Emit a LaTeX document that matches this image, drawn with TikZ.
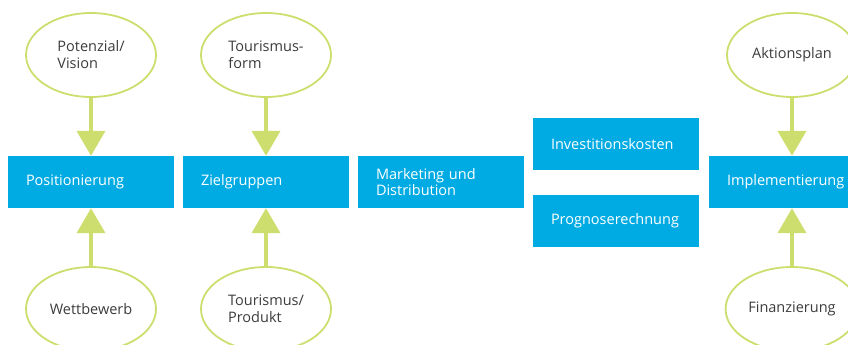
\documentclass[tikz,border=0pt]{standalone}
\usepackage{fontspec}
\setmainfont{Open Sans}
\usetikzlibrary{shapes.geometric,arrows.meta}
\definecolor{kastenblau}{RGB}{0,171,228}
\definecolor{ovalgruen}{RGB}{206,222,110}
\definecolor{textgrau}{RGB}{60,60,60}
\tikzset{
  feld/.style={rectangle, fill=kastenblau, text=white, text width=130pt, align=left,
    inner xsep=18pt, minimum height=52pt, font=\fontsize{14.5}{16.5}\selectfont},
  oval/.style={ellipse, draw=ovalgruen, line width=1.8pt, fill=white, minimum width=130pt,
    minimum height=84pt, align=left, text=textgrau, font=\fontsize{14.5}{17}\selectfont},
  pfeil/.style={draw=ovalgruen, line width=4pt, -{Triangle[width=28pt,length=25pt]}}
}
\begin{document}
\begin{tikzpicture}[x=1pt,y=1pt]
    \path[use as bounding box, clip] (0,0) rectangle (848,-345);

    % Kaesten
    \node[feld] (pos) at (91,-182) {Positionierung};
    \node[feld] (ziel) at (266,-182) {Zielgruppen};
    \node[feld] (mark) at (441,-182) {Marketing und\\Distribution};
    \node[feld] (inv) at (616,-144) {Investitionskosten};
    \node[feld] (prog) at (616,-221) {Prognoserechnung};
    \node[feld] (impl) at (792,-182) {Implementierung};

    % Ovale
    \node[oval] (pot) at (91,-55) {Potenzial/\\Vision};
    \node[oval] (tform) at (266,-55) {Tourismus-\\form};
    \node[oval] (akt) at (792,-55) {Aktionsplan};
    \node[oval] (wett) at (91,-309) {Wettbewerb};
    \node[oval] (tprod) at (266,-309) {Tourismus/\\Produkt};
    \node[oval] (fin) at (792,-309) {Finanzierung};

    % Pfeile
    \draw[pfeil] (pot) -- (pos);
    \draw[pfeil] (tform) -- (ziel);
    \draw[pfeil] (akt) -- (impl);
    \draw[pfeil] (wett) -- (pos);
    \draw[pfeil] (tprod) -- (ziel);
    \draw[pfeil] (fin) -- (impl);
\end{tikzpicture}
\end{document}
